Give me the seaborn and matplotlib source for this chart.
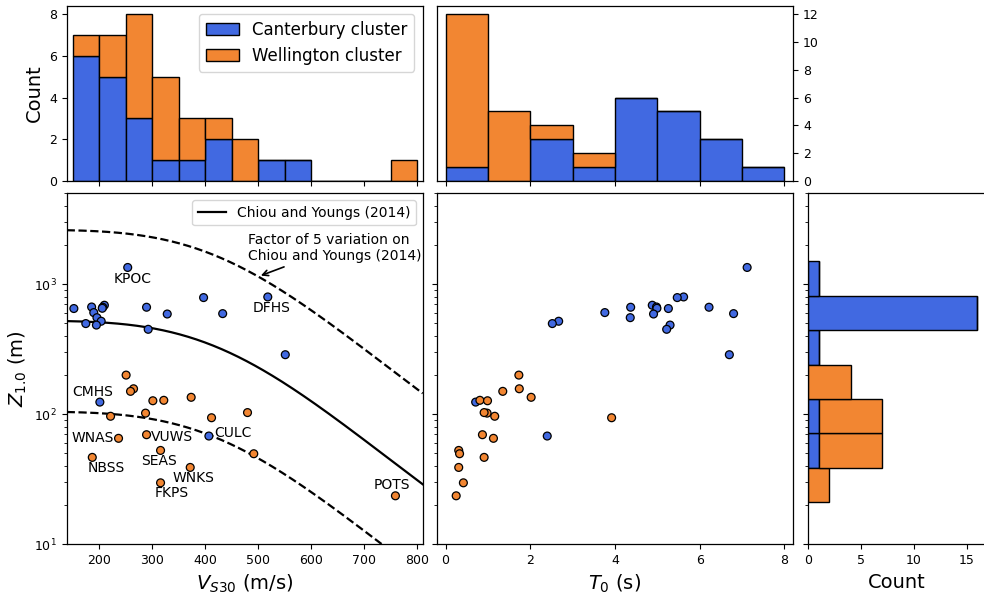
import numpy as np
import pandas as pd
import matplotlib
matplotlib.use("Agg")
import matplotlib.pyplot as plt
import seaborn as sns
from matplotlib.patches import Patch

# ---------------- data ----------------
clusters = ["Canterbury cluster", "Wellington cluster"]

canterbury_station = ["KPOC", "DFHS", "", "", "", "", "", "", "", "", "",
                      "", "", "", "", "", "", "", "CMHS", "CULC"]
canterbury_vs30 = [254, 518, 397, 210, 186, 289.5, 207, 206, 152.5, 190, 433,
                   328.5, 196, 204, 175, 195, 292.6, 551, 201.5, 407]
canterbury_z1 = [1345, 798, 789, 689, 668, 665, 665, 653, 650, 605, 594,
                 590, 553, 519, 498, 485, 450, 287, 124, 68]
canterbury_t0 = [7.12, 5.62, 5.47, 4.88, 4.98, 4.37, 6.22, 4.99, 5.26, 3.76, 6.80,
                 4.91, 4.36, 2.67, 2.52, 5.30, 5.22, 6.70, 0.71, 2.40]

wellington_station = ["NBSS", "WNAS", "VUWS", "SEAS", "FKPS", "WNKS", "POTS",
                      "", "", "", "", "", "", "", "", "", "", ""]
wellington_vs30 = [187.2, 236.7, 289.5, 315.9, 315.9, 371.8, 758.6,
                   491.6, 251, 265, 259.3, 373.6, 322, 301.4, 287.6, 479.8, 221.7, 412]
wellington_z1 = [46.6, 65.3, 69.6, 52.7, 29.7, 39, 23.6,
                 49.7, 200, 157, 150, 135, 128, 127, 102, 103, 96.5, 94]
wellington_t0 = [0.91, 1.13, 0.87, 0.31, 0.42, 0.31, 0.25,
                 0.33, 1.73, 1.74, 1.35, 2.02, 0.81, 0.99, 0.98, 0.91, 1.16, 3.92]

# Chiou and Youngs (2014) Z1.0 model coefficients
cy_a, cy_vref, cy_vc = -7.15 / 4, 1360.0, 570.94
variation_factor = 5

# ---------------- layout / style ----------------
colors = {"Canterbury cluster": "royalblue", "Wellington cluster": "#F28632"}
label_offsets = {  # (dx, dy) in points, horizontal alignment
    "KPOC": (3.6, -8.4, "center"), "DFHS": (2.4, -8.1, "center"),
    "CMHS": (-5.5, 7.6, "center"), "WNAS": (-3.6, 0.0, "right"),
    "NBSS": (10.0, -7.9, "center"), "VUWS": (3.4, -1.4, "left"),
    "CULC": (4.1, 1.9, "left"), "SEAS": (-1.4, -7.5, "center"),
    "WNKS": (2.4, -7.4, "center"), "FKPS": (7.7, -7.6, "center"),
    "POTS": (-2.7, 8.1, "center"),
}

df = pd.DataFrame({
    "station": canterbury_station + wellington_station,
    "vs30": canterbury_vs30 + wellington_vs30,
    "z1": canterbury_z1 + wellington_z1,
    "t0": canterbury_t0 + wellington_t0,
    "cluster": [clusters[0]] * len(canterbury_vs30) + [clusters[1]] * len(wellington_vs30),
})

plt.rcParams["font.family"] = ["DejaVu Sans"]

W, H = 984, 597
fig = plt.figure(figsize=(W / 100, H / 100), dpi=100)


def rect(x0, y0, x1, y1):
    return [x0 / W, 1 - y1 / H, (x1 - x0) / W, (y1 - y0) / H]


ax_sc1 = fig.add_axes(rect(66.7, 193.3, 422.7, 544.3))
ax_sc1.set_yscale("log")
ax_h1 = fig.add_axes(rect(66.7, 5.7, 422.7, 181.0), sharex=ax_sc1)
ax_sc2 = fig.add_axes(rect(436.7, 193.3, 793.3, 544.3), sharey=ax_sc1)
ax_h2 = fig.add_axes(rect(436.7, 5.7, 793.3, 181.0), sharex=ax_sc2)
ax_hr = fig.add_axes(rect(808.3, 193.3, 985.7, 544.3), sharey=ax_sc1)

# seaborn stacks the first hue level on top, so list Wellington first
stack_order = clusters[::-1]
hist_kw = dict(hue="cluster", hue_order=stack_order, palette=colors, multiple="stack",
               edgecolor="black", linewidth=1.0, alpha=1, legend=False)

vs_bins = np.arange(150, 801, 50)
t0_bins = np.arange(0, 9, 1)
z_bins = [1.322, 1.587, 1.852, 2.117, 2.382, 2.647, 2.912, 3.177]

sns.histplot(data=df, x="vs30", bins=vs_bins, ax=ax_h1, **hist_kw)
sns.histplot(data=df, x="t0", bins=t0_bins, ax=ax_h2, **hist_kw)
sns.histplot(data=df, y="z1", bins=z_bins, ax=ax_hr, **hist_kw)

# model curves
vs_curve = np.linspace(139, 810, 300)
z_cy = np.exp(cy_a * np.log((vs_curve ** 4 + cy_vc ** 4) / (cy_vref ** 4 + cy_vc ** 4)))
sns.lineplot(x=vs_curve, y=z_cy, ax=ax_sc1, color="black", lw=1.6,
             label="Chiou and Youngs (2014)", zorder=2)
sns.lineplot(x=vs_curve, y=z_cy * variation_factor, ax=ax_sc1, color="black",
             lw=1.6, linestyle="--", zorder=2)
sns.lineplot(x=vs_curve, y=z_cy / variation_factor, ax=ax_sc1, color="black",
             lw=1.6, linestyle="--", zorder=2)

sc_kw = dict(hue="cluster", hue_order=clusters, palette=colors, edgecolor="black",
             s=32, linewidth=0.9, legend=False, zorder=3)
sns.scatterplot(data=df, x="vs30", y="z1", ax=ax_sc1, **sc_kw)
sns.scatterplot(data=df, x="t0", y="z1", ax=ax_sc2, **sc_kw)

# station labels
for _, r in df.iterrows():
    if r["station"] in label_offsets:
        dx, dy, ha = label_offsets[r["station"]]
        ax_sc1.annotate(r["station"], xy=(r["vs30"], r["z1"]), xytext=(dx, dy),
                        textcoords="offset points", ha=ha, va="center", fontsize=10)

# annotation for the factor of 5 lines
v_arrow = 500
z_arrow = variation_factor * np.exp(cy_a * np.log((v_arrow ** 4 + cy_vc ** 4) / (cy_vref ** 4 + cy_vc ** 4)))
ax_sc1.annotate("Factor of 5 variation on\nChiou and Youngs (2014)",
                xy=(v_arrow, z_arrow), xytext=(480, 1452), ha="left", va="bottom",
                fontsize=10, arrowprops=dict(arrowstyle="->", color="black", lw=1.2))

ax_sc1.legend(loc="upper right", fontsize=10, frameon=True)

# limits
ax_sc1.set_xlim(139, 810)
ax_sc1.set_ylim(10, 5000)
ax_sc2.set_xlim(-0.21, 8.21)
ax_h1.set_ylim(0, 8.4)
ax_h2.set_ylim(0, 12.6)
ax_hr.set_xlim(0, 16.8)

# ticks and labels
ax_sc1.set_xticks([200, 300, 400, 500, 600, 700, 800])
ax_sc2.set_xticks([0, 2, 4, 6, 8])
ax_h1.set_yticks([0, 2, 4, 6, 8])
ax_h2.set_yticks([0, 2, 4, 6, 8, 10, 12])
ax_hr.set_xticks([0, 5, 10, 15])

for ax in (ax_sc1, ax_sc2, ax_h1, ax_h2, ax_hr):
    ax.tick_params(labelsize=9)
    for sp in ax.spines.values():
        sp.set_visible(True)
        sp.set_linewidth(0.9)

ax_h1.tick_params(labelbottom=False)
ax_h2.tick_params(labelbottom=False)
ax_h2.yaxis.tick_right()
ax_sc2.tick_params(labelleft=False)
ax_hr.tick_params(labelleft=False)

ax_sc1.set_xlabel("$V_{S30}$ (m/s)", fontsize=14)
ax_sc1.set_ylabel("$Z_{1.0}$ (m)", fontsize=14)
ax_sc2.set_xlabel("$T_0$ (s)", fontsize=14)
ax_sc2.set_ylabel("")
ax_h1.set_xlabel("")
ax_h1.set_ylabel("Count", fontsize=14)
ax_h2.set_xlabel("")
ax_h2.set_ylabel("")
ax_hr.set_ylabel("")
ax_hr.set_xlabel("Count", fontsize=14)
fig.align_ylabels([ax_h1, ax_sc1])

handles = [Patch(facecolor=colors[c], edgecolor="black", label=c) for c in clusters]
ax_h1.legend(handles=handles, loc="upper right", fontsize=12)

fig.savefig("out.png", dpi=100)
